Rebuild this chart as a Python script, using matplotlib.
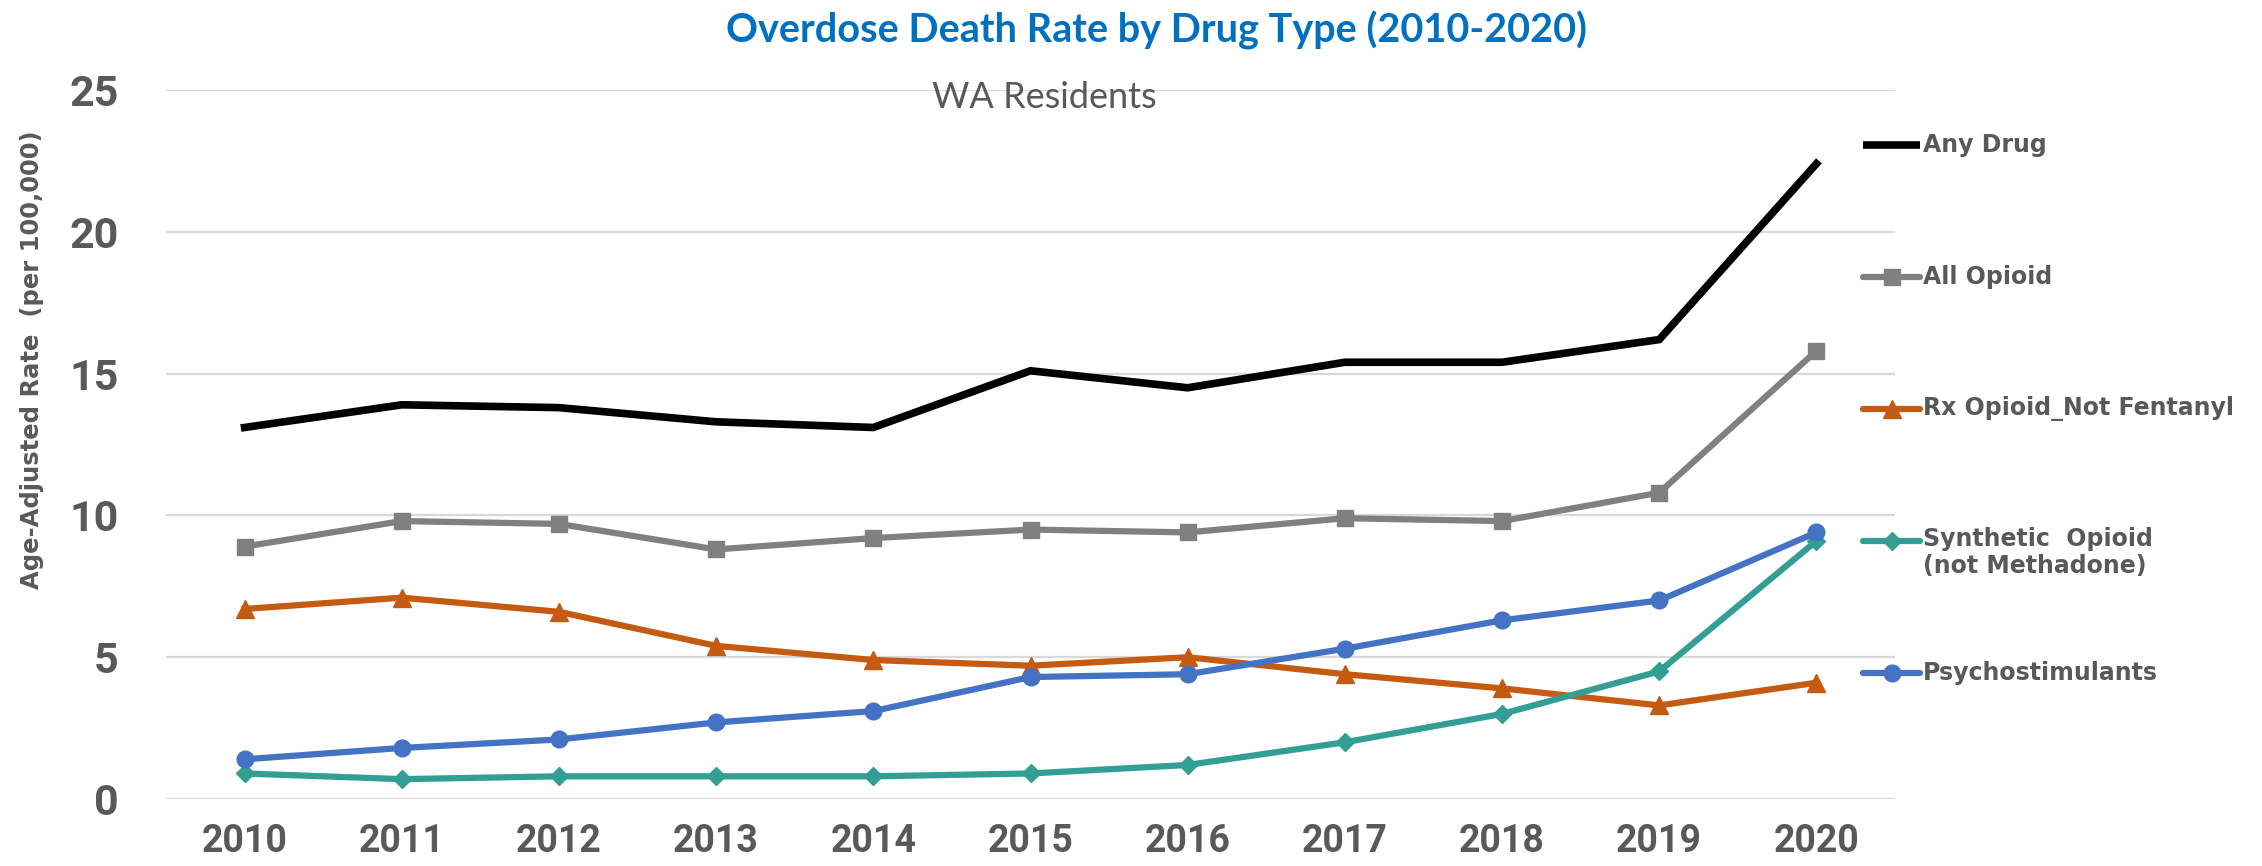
import matplotlib
matplotlib.use('Agg')
import matplotlib.pyplot as plt
from matplotlib.lines import Line2D

years = [2010, 2011, 2012, 2013, 2014, 2015, 2016, 2017, 2018, 2019, 2020]
any_drug = [13.1, 13.9, 13.8, 13.3, 13.1, 15.1, 14.5, 15.4, 15.4, 16.2, 22.4]
all_opioid = [8.9, 9.8, 9.7, 8.8, 9.2, 9.5, 9.4, 9.9, 9.8, 10.8, 15.8]
rx_opioid = [6.7, 7.1, 6.6, 5.4, 4.9, 4.7, 5.0, 4.4, 3.9, 3.3, 4.1]
synthetic = [0.9, 0.7, 0.8, 0.8, 0.8, 0.9, 1.2, 2.0, 3.0, 4.5, 9.1]
psycho = [1.4, 1.8, 2.1, 2.7, 3.1, 4.3, 4.4, 5.3, 6.3, 7.0, 9.4]

labels = ['Any Drug', 'All Opioid', 'Rx Opioid_Not Fentanyl',
          'Synthetic  Opioid\n(not Methadone)', 'Psychostimulants']
series = [any_drug, all_opioid, rx_opioid, synthetic, psycho]
colors = ['#000000', '#808080', '#C55A11', '#339E93', '#4472C4']
markers = [None, 's', '^', 'D', 'o']
msizes = [0, 12, 13, 9, 12]
widths = [5.5, 4.5, 4.5, 4.5, 4.5]

gray_txt = '#595959'
tick_font = ['Roboto', 'DejaVu Sans']

W, H = 2262, 866
fig = plt.figure(figsize=(W / 100, H / 100), dpi=100)
ax = fig.add_axes([166 / W, 1 - 799 / H, (1895 - 166) / W, (799 - 90) / H])

for vals, c, m, ms, lw in zip(series, colors, markers, msizes, widths):
    ax.plot(years, vals, color=c, lw=lw, marker=m, markersize=ms,
            markeredgecolor=c, solid_joinstyle='miter', zorder=3)

ax.set_xlim(2009.5, 2020.5)
ax.set_ylim(0, 25)
ax.set_xticks(years)
ax.set_xticklabels([str(y) for y in years])
ax.set_yticks([0, 5, 10, 15, 20, 25])
ax.grid(axis='y', color='#D9D9D9', lw=1.6, zorder=0)
for s in ax.spines.values():
    s.set_visible(False)
ax.tick_params(axis='both', length=0)
ax.tick_params(axis='x', pad=17)
ax.tick_params(axis='y', pad=34)
for t in ax.get_xticklabels():
    t.set_fontfamily(tick_font)
    t.set_fontweight('bold')
    t.set_fontsize(27)
    t.set_color(gray_txt)
for t in ax.get_yticklabels():
    t.set_fontfamily(tick_font)
    t.set_fontweight('bold')
    t.set_fontsize(31)
    t.set_color(gray_txt)

fig.text(32 / W, 1 - 360 / H, 'Age-Adjusted Rate  (per 100,000)', rotation=90,
         ha='center', va='center', fontsize=17.5, fontweight='bold', color=gray_txt)

fig.text(1156 / W, 1 - 30 / H, 'Overdose Death Rate by Drug Type (2010-2020)',
         ha='center', va='center', fontsize=28.5, fontweight='bold',
         family=['Lato', 'DejaVu Sans'], color='#0070C0')
fig.text(1044 / W, 1 - 98 / H, 'WA Residents', ha='center', va='center',
         fontsize=26, fontweight='normal', family=['Lato', 'DejaVu Sans'], color=gray_txt)

# legend drawn by hand to the right of the plot
x0, x1 = 1863 / W, 1920 / W
for i, (lab, c, m, ms, lw) in enumerate(zip(labels, colors, markers, msizes, widths)):
    yp = 145 + i * 132
    yf = 1 - yp / H
    fig.add_artist(Line2D([x0, (x0 + x1) / 2, x1], [yf, yf, yf], color=c, lw=lw,
                          marker=m, markersize=ms, markeredgecolor=c,
                          markevery=[1], solid_capstyle='round' if m else 'butt'))
    if '\n' in lab:
        fig.text(1923 / W, 1 - (yp - 14) / H, lab, ha='left', va='top',
                 fontsize=17, fontweight='bold', color=gray_txt, linespacing=1.15)
    else:
        fig.text(1923 / W, yf, lab, ha='left', va='center',
                 fontsize=17, fontweight='bold', color=gray_txt)

fig.savefig('out.png', dpi=100)
